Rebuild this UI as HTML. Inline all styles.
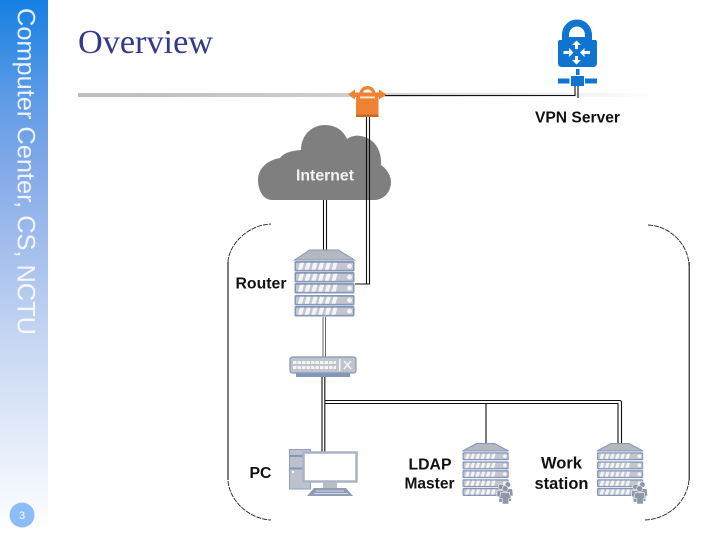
<!DOCTYPE html>
<html><head><meta charset="utf-8">
<style>
html,body{margin:0;padding:0;background:#fff}
#p{position:relative;width:720px;height:540px;overflow:hidden;background:#fff}
#s{position:absolute;left:0;top:0;width:48px;height:540px;background:linear-gradient(to bottom,#1580e2 0,#5f9be6 100px,#88ace9 180px,#c3d4f2 330px,#f2f6fd 490px,#fff 530px)}
svg{position:absolute;left:0;top:0}
</style></head>
<body><div id="p"><div id="s"></div>
<svg width="720" height="540" viewBox="0 0 720 540" xmlns="http://www.w3.org/2000/svg">
<defs>
<linearGradient id="r" x1="0" x2="1" y1="0" y2="0"><stop offset="0" stop-color="#bdbdbd"/><stop offset="0.5" stop-color="#cfcfcf"/><stop offset="0.8" stop-color="#ececec"/><stop offset="1" stop-color="#fff"/></linearGradient>
<g id="slat">
<rect x="0" y="0" width="60" height="10.500" rx="1.500" fill="#8497bb"/>
<rect x="1.500" y="1.800" width="57" height="7" fill="#c3c6cc"/>
<path d="M3.500 8.800l2-7h4l-2 7zM10.200 8.800l2-7h4l-2 7zM16.900 8.800l2-7h4l-2 7zM23.600 8.800l2-7h4l-2 7zM30.300 8.800l2-7h4l-2 7zM37 8.800l2-7h4l-2 7z" fill="#f4f5f7"/>
<circle cx="55" cy="5.200" r="2.400" fill="#f4f5f7"/>
</g>
<g id="srv">
<path d="M0 10L15 0H44L60 10Z" fill="#b4b8bf" stroke="#8497bb" stroke-width="1"/>
<use href="#slat" y="11"/><use href="#slat" y="22"/><use href="#slat" y="33"/><use href="#slat" y="45"/><use href="#slat" y="56"/>
</g>
<g id="srv2">
<path d="M0 7.500L14 0H32L46 7.500Z" fill="#b4b8bf" stroke="#8497bb" stroke-width="1"/>
<g transform="scale(.77 .76)"><use href="#slat" y="11.500"/><use href="#slat" y="23.500"/><use href="#slat" y="35"/><use href="#slat" y="47"/><use href="#slat" y="58.500"/></g>
</g>
<g id="ppl" fill="#8d97a8" stroke="#fff" stroke-width=".6" transform="scale(.9)">
<circle cx="12" cy="3.500" r="3.200"/><path d="M7 8h10l1 8h-2v6h-8v-6H6z"/>
<circle cx="4.500" cy="6" r="3.200"/><path d="M0 10h9l1 7H8v6H2v-6H0z"/>
<circle cx="9" cy="8" r="3.400"/><path d="M4 12h10l1 7h-2v6H6v-6H3z"/>
</g>
</defs>

<rect x="78" y="93" width="580" height="4" fill="url(#r)"/>

<text x="78" y="53" font-family="'Liberation Serif',serif" font-size="34" fill="#333a8c" textLength="135" lengthAdjust="spacingAndGlyphs">Overview</text>
<text transform="translate(17.500 8) rotate(90)" font-family="'Liberation Sans',sans-serif" font-size="25" fill="#fff" fill-opacity=".88" textLength="327" lengthAdjust="spacingAndGlyphs">Computer Center, CS, NCTU</text>

<circle cx="22" cy="515" r="12.500" fill="#8dbdf7"/>
<text x="22" y="519" text-anchor="middle" font-family="'Liberation Sans',sans-serif" font-size="11" fill="#fff">3</text>

<!-- frame -->
<path d="M228 480V262" fill="none" stroke="#111" stroke-width="1.100"/>
<path d="M689.200 262V480" fill="none" stroke="#111" stroke-width="1.100"/>
<g fill="none" stroke="#222" stroke-width=".9" stroke-dasharray="5 1">
<path d="M228 262C229 244 248 225 271 224"/>
<path d="M648 225C670 226 688 244 689 265"/>
<path d="M228 481C230 502 250 519 271 520"/>
<path d="M689 480C687 502 668 519 645 520"/>
</g>

<!-- cloud -->
<path d="M272 200C263 200 258 190 258 180C258 168 268 160 280 158C284 153 290 151 301 150C301 136 311 125 325 125C335 125 343 130 347 139C351 136 356 135 361 136C374 138 382 150 381 165C387 169 391 176 391 182C391 192 384 200 374 200Z" fill="#7f7f7f"/>
<text x="325" y="180.500" text-anchor="middle" font-family="'Liberation Sans',sans-serif" font-weight="bold" font-size="15.500" fill="#f2f2f2" textLength="58" lengthAdjust="spacingAndGlyphs">Internet</text>

<!-- lines -->
<g fill="none" stroke="#111" stroke-width="1.100">
<path d="M323.500 200V250M326.500 200V250"/>
<path d="M366.500 114V283.500M369.500 114V284H355"/>
<path d="M322 377V452M324.800 377V452"/>
<path d="M324.800 400.500H619.500Q621.500 400.500 621.500 402.500V443"/>
<path d="M324.800 403.500H618V443"/>
<path d="M486 403V443"/>
<path d="M385 95.500H575V85M578 85V98"/>
</g>
<path d="M323 317V357M325.500 317V357" stroke="#666" stroke-width="1" fill="none"/>

<!-- router -->
<use href="#srv" x="294.500" y="250"/>
<!-- switch -->
<rect x="296" y="372" width="54" height="5" fill="#8497bb"/>
<rect x="290" y="357" width="66" height="16" rx="2.500" fill="#bfc3cb" stroke="#8497bb" stroke-width="1.200"/>
<path d="M293 362.500H336M293 367.500H336" stroke="#f4f5f7" stroke-width="3" stroke-dasharray="3.500 1" fill="none"/>
<path d="M344 361l7 8M351 361l-7 8" stroke="#f4f5f7" stroke-width="1.500"/>
<rect x="339" y="359" width="1.500" height="12" fill="#f4f5f7"/>

<!-- PC -->
<rect x="289.500" y="449.500" width="21" height="39.500" fill="#bcc2cc" stroke="#8ea0c0"/>
<rect x="290" y="455" width="20" height="2" fill="#8497bb"/>
<rect x="290" y="467.500" width="20" height="2" fill="#8497bb"/>
<rect x="292" y="471" width="2" height="2" fill="#fff"/>
<rect x="303.500" y="452.500" width="53" height="29" fill="#fff" stroke="#aab3c5" stroke-width="2.500"/>
<rect x="323" y="482" width="14" height="6" fill="#b8bcc4"/>
<path d="M307 496L314 488H346L353 496Z" fill="#8f9cb6"/>
<path d="M316 491H344M314 493.500H348" stroke="#d5d9e2" stroke-width="1"/>

<!-- servers -->
<use href="#srv2" x="462.500" y="443.500"/>
<use href="#ppl" x="497" y="481.500"/>
<use href="#srv2" x="597" y="443.500"/>
<use href="#ppl" x="631.500" y="481.500"/>

<!-- VPN lock -->
<g fill="#0f75d0">
<path fill-rule="evenodd" d="M562 40V35C562 26 569 19.500 577 19.500C585 19.500 592 26 592 35V40H595C596.500 40 597 41 597 42V63C597 65.500 595.500 67 593.500 67H561.500C559.500 67 558 65.500 558 63V42C558 41 558.500 40 560 40ZM569 37H585V35C585 30 581.500 26.500 577 26.500C572.500 26.500 569 30 569 35Z"/>
<rect x="576" y="69" width="3.500" height="6"/>
<rect x="571" y="76" width="13" height="10"/>
<rect x="558" y="78.500" width="11.500" height="5"/>
<rect x="585" y="78.500" width="12" height="5"/>
</g>
<g fill="#fff">
<path d="M576.500 40.500l4.500 4.500h-3V49h-3v-4h-3z"/>
<path d="M576.500 64.500l-4.500-4.500h3v-4h3v4h3z"/>
<path d="M573.500 52.500l-4.500 4.500v-3h-5.500v-3h5.500v-3z"/>
<path d="M580 52.500l4.500-4.500v3h5.500v3h-5.500v3z"/>
</g>

<!-- orange lock -->
<g fill="#f08233">
<path d="M348 94.500L355 89.500V92.500H359.500C360.500 88.500 363.500 86 367.500 86C371.500 86 374.500 88.500 375.500 92.500H379V89.500L386.500 94.500L379 99.500V97H378.500V115.500H356V97H355V99.500Z"/>
<rect x="356" y="114.500" width="22.500" height="2.500" fill="#c96a28"/>
<path d="M363 92.500C363.500 90.500 365.500 89.500 367.500 89.500C369.500 89.500 371.500 90.500 372 92.500Z" fill="#fff"/>
<rect x="360" y="96.500" width="15" height="1.800" fill="#fff" opacity=".85"/>
</g>

<!-- labels -->
<g font-family="'Liberation Sans',sans-serif" font-weight="bold" font-size="15.500" fill="#111">
<text x="535" y="122.500" textLength="85" lengthAdjust="spacingAndGlyphs">VPN Server</text>
<text x="235.500" y="288.500" textLength="51" lengthAdjust="spacingAndGlyphs">Router</text>
<text x="249.500" y="478" textLength="22" lengthAdjust="spacingAndGlyphs">PC</text>
<text x="408.500" y="469.500" textLength="43" lengthAdjust="spacingAndGlyphs">LDAP</text>
<text x="404.500" y="488.500" textLength="50" lengthAdjust="spacingAndGlyphs">Master</text>
<text x="541" y="468.500" font-size="16.500" textLength="41" lengthAdjust="spacingAndGlyphs">Work</text>
<text x="534.500" y="489" font-size="16.500" textLength="54" lengthAdjust="spacingAndGlyphs">station</text>
</g>
</svg></div></body></html>
